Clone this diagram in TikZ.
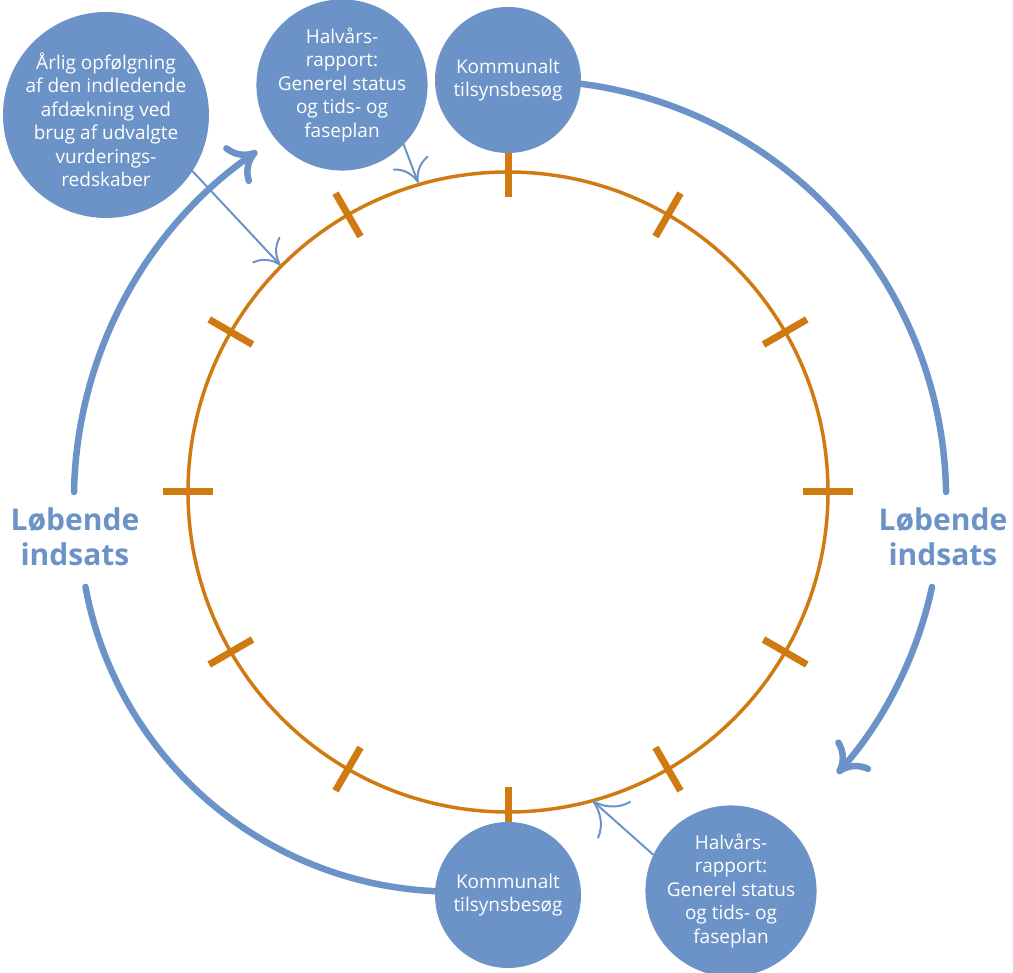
\documentclass[tikz,border=0pt]{standalone}
\usepackage{fontspec}
\setmainfont{Open Sans}
\usetikzlibrary{arrows.meta,calc,backgrounds}
\definecolor{cycleblue}{HTML}{6C93C8}
\definecolor{ringorange}{HTML}{D07A12}

\begin{document}
\begin{tikzpicture}[x=1pt,y=1pt,
  event/.style={circle, fill=cycleblue, inner sep=0pt, text=white, align=center,
    font=\fontsize{19}{23.5}\selectfont},
  eventtext/.style={text=white, align=center, inner sep=0pt,
    font=\fontsize{19}{23.5}\selectfont},
  flowlabel/.style={text=cycleblue, align=center,
    font=\bfseries\fontsize{30}{35}\selectfont},
  ring/.style={ringorange, line width=3.5},
  ringtick/.style={ringorange, line width=7},
  cycle/.style={cycleblue, line width=6.5, line cap=round},
  cyclehead/.style={cycle, -{Computer Modern Rightarrow[length=27pt,width=46pt]}},
  pointer/.style={cycleblue, line width=2, line cap=round,
    -{Computer Modern Rightarrow[length=22pt,width=38pt]}}
]
\useasboundingbox (0,0) rectangle (1013,973);

% centre of the year ring
\coordinate (O) at (508,481);

% events around the year
\node[event, minimum size=206] (big) at (106,858) {};
\node[eventtext] (bigtext) at (106,853)
  {Årlig opfølgning\\af den indledende\\afdækning ved\\brug af udvalgte\\vurderings-\\redskaber};
\node[event, minimum size=162] (h1) at (342,888)
  {Halvårs-\\rapport:\\Generel status\\og tids- og\\faseplan};
\node[event, minimum size=146] (k1) at (508,893) {Kommunalt\\tilsynsbesøg};
\node[event, minimum size=146] (k2) at (508,78) {Kommunalt\\tilsynsbesøg};
\node[event, minimum size=162] (h2) at (731,82)
  {Halvårs-\\rapport:\\Generel status\\og tids- og\\faseplan};

% labels of the running effort
\node[flowlabel] (lt) at (75,436) {Løbende\\indsats};
\node[flowlabel] (rt) at (943,436) {Løbende\\indsats};

% points on the ring hit by the pointers
\coordinate (r1) at ($(O)+(135.1:321)$);
\coordinate (r2) at ($(O)+(106.2:322)$);
\coordinate (r3) at ($(O)+(-74.7:320)$);

% where the cycle resumes below the labels
\coordinate (c1) at (932,386);
\coordinate (c2) at (74,481);

\begin{scope}[on background layer]
  % the year ring with its twelve month ticks
  \draw[ring] (O) circle (320);
  \foreach \a in {0,30,...,330}
    \draw[ringtick] ($(O)+(\a:295)$) -- ($(O)+(\a:345)$);

  % outer cycle, right half
  \draw[cycle] (k1.-3) arc[start angle=82.6, end angle=1, radius=419];
  \draw[cyclehead] (c1) arc[start angle=-12.2, end angle=-41.6, radius=412];

  % outer cycle, left half
  \draw[cycle] (k2.177) arc[start angle=267.4, end angle=190.5, radius=372.6];
  \draw[cyclehead] (c2) arc[start angle=178.9, end angle=124.6, radius=424];
\end{scope}

% pointers from the events onto the ring
\draw[pointer] (big.-33.5) -- (r1);
\draw[pointer] (h1.-44) -- (r2);
\draw[pointer, -{Computer Modern Rightarrow[length=30pt,width=50pt]}] (h2.155) -- (r3);
\end{tikzpicture}
\end{document}
